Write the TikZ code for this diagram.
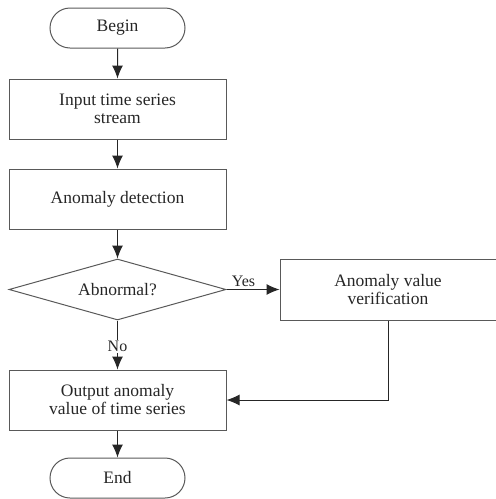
\documentclass[tikz,border=0pt]{standalone}
\usepackage{fontspec}
\setmainfont{Liberation Serif}
\usetikzlibrary{shapes.geometric,shapes.misc,arrows.meta}
\begin{document}
\begin{tikzpicture}[x=1pt,y=-1pt,
  every node/.style={font=\fontsize{17.5}{18}\selectfont, text=black!85},
  box/.style={draw=black!65, line width=1pt, minimum width=217pt, minimum height=60pt, align=center, inner sep=0pt},
  term/.style={draw=black!65, line width=1pt, rounded rectangle, minimum width=135pt, minimum height=40pt, inner sep=0pt},
  dia/.style={draw=black!65, line width=1pt, diamond, aspect=3.6, minimum width=217pt, minimum height=61pt, inner sep=0pt},
  conn/.style={draw=black!85, line width=1pt, -{Latex[length=13pt,width=11pt]}},
  lbl/.style={font=\fontsize{16}{18}\selectfont}
]
\useasboundingbox (0,0) rectangle (496,499);
\node[term] (begin) at (117.5,28) {Begin};
\node[box] (input) at (117.5,109) {Input time series\\stream};
\node[box] (detect) at (117.5,199) {Anomaly detection};
\node[dia] (abn) at (117.5,289.5) {Abnormal?};
\node[box, minimum width=216pt, minimum height=61pt] (verif) at (388,289.5) {Anomaly value\\verification};
\node[box] (output) at (117.5,400) {Output anomaly\\value of time series};
\node[term] (end) at (117.5,478) {End};
\coordinate (corner) at (388,400);
\draw[conn] (begin) -- (input);
\draw[conn] (input) -- (detect);
\draw[conn] (detect) -- (abn);
\draw[conn] (abn) -- node[lbl, above, pos=0.32, inner sep=2pt] (yes) {Yes} (verif);
\draw[conn] (abn) -- node[lbl, fill=white, pos=0.53, inner sep=1pt] (no) {No} (output);
\draw[conn] (verif.south) -- (corner) -- (output.east);
\draw[conn] (output) -- (end);
\end{tikzpicture}
\end{document}
